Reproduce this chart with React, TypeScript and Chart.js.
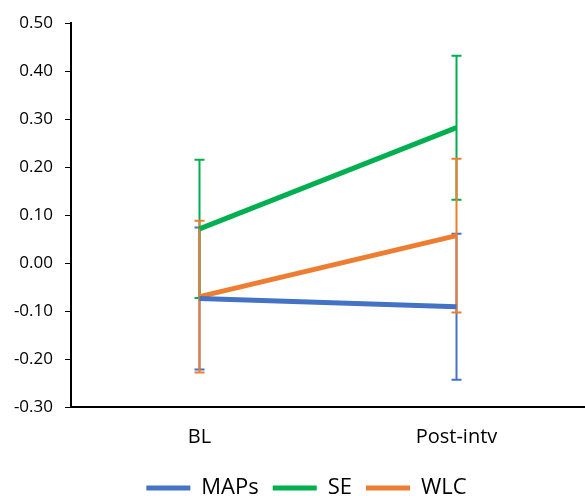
import React, { useEffect, useRef } from "react";
import { Chart, registerables } from "chart.js";

Chart.register(...registerables);

const categories = ["BL", "Post-intv"];
const seriesNames = ["MAPs", "SE", "WLC"];
const mapsValues = [-0.074, -0.091];
const seValues = [0.071, 0.282];
const wlcValues = [-0.07, 0.057];
const mapsErrors = [0.148, 0.152];
const seErrors = [0.144, 0.15];
const wlcErrors = [0.158, 0.16];
const colors = ["#4472C4", "#00B050", "#ED7D31"];
const yTicks = [-0.3, -0.2, -0.1, 0, 0.1, 0.2, 0.3, 0.4, 0.5];

const FONT = "'Open Sans', sans-serif";

const errorBarPlugin = {
  id: "errorBars",
  beforeDatasetsDraw(chart: any) {
    const ctx = chart.ctx;
    const yScale = chart.scales.y;
    const errs = [mapsErrors, seErrors, wlcErrors];
    chart.data.datasets.forEach((ds: any, i: number) => {
      const meta = chart.getDatasetMeta(i);
      ctx.save();
      ctx.strokeStyle = colors[i];
      ctx.lineWidth = 2;
      meta.data.forEach((pt: any, j: number) => {
        const v = ds.data[j];
        const e = errs[i][j];
        const x = pt.x;
        const yTop = yScale.getPixelForValue(v + e);
        const yBot = yScale.getPixelForValue(v - e);
        ctx.beginPath();
        ctx.moveTo(x, yTop);
        ctx.lineTo(x, yBot);
        ctx.moveTo(x - 5, yTop);
        ctx.lineTo(x + 5, yTop);
        ctx.moveTo(x - 5, yBot);
        ctx.lineTo(x + 5, yBot);
        ctx.stroke();
      });
      ctx.restore();
    });
  },
};

const legendShiftPlugin = {
  id: "legendShift",
  afterLayout(chart: any) {
    if (chart.legend) {
      chart.legend.left += 14;
      chart.legend.right += 14;
    }
  },
};

export default function App() {
  const ref = useRef<HTMLCanvasElement | null>(null);
  useEffect(() => {
    if (!ref.current) return;
    const chart = new Chart(ref.current, {
      type: "line",
      data: {
        labels: categories,
        datasets: [mapsValues, seValues, wlcValues].map((d, i) => ({
          label: seriesNames[i],
          data: d,
          borderColor: colors[i],
          backgroundColor: colors[i],
          borderWidth: 5,
          pointRadius: 0,
          tension: 0,
        })),
      },
      plugins: [errorBarPlugin, legendShiftPlugin],
      options: {
        animation: false,
        responsive: false,
        maintainAspectRatio: false,
        layout: { padding: { top: 23, right: 0, left: 0, bottom: -13 } },
        plugins: {
          tooltip: { enabled: false },
          legend: {
            position: "bottom",
            labels: {
              color: "#000",
              font: { family: FONT, size: 22 },
              boxWidth: 44,
              boxHeight: 5,
              padding: 14,
              generateLabels: (c: any) =>
                c.data.datasets.map((ds: any, i: number) => ({
                  text: ds.label,
                  fillStyle: colors[i],
                  strokeStyle: colors[i],
                  lineWidth: 0,
                  datasetIndex: i,
                  hidden: false,
                })),
            },
          },
        },
        scales: {
          x: {
            offset: true,
            afterFit: (s: any) => {
              s.height = 56;
            },
            grid: { display: false, drawTicks: false },
            border: { color: "#000", width: 2 },
            ticks: { color: "#000", font: { family: FONT, size: 20 }, padding: 18 },
          },
          y: {
            min: -0.3,
            max: 0.5,
            afterFit: (s: any) => {
              s.width = 71;
            },
            afterBuildTicks: (s: any) => {
              s.ticks = yTicks.map((v) => ({ value: v }));
            },
            grid: { drawOnChartArea: false, drawTicks: true, tickLength: 6, color: "#000", tickWidth: 1 },
            border: { color: "#000", width: 2 },
            ticks: {
              color: "#000",
              font: { family: FONT, size: 17 },
              padding: 12,
              callback: (v: any) => Number(v).toFixed(2),
            },
          },
        },
      },
    });
    return () => chart.destroy();
  }, []);
  return (
    <div style={{ position: "fixed", left: 0, top: 0, width: 585, height: 496, background: "#fff" }}>
      <canvas ref={ref} width={585} height={496} />
    </div>
  );
}
